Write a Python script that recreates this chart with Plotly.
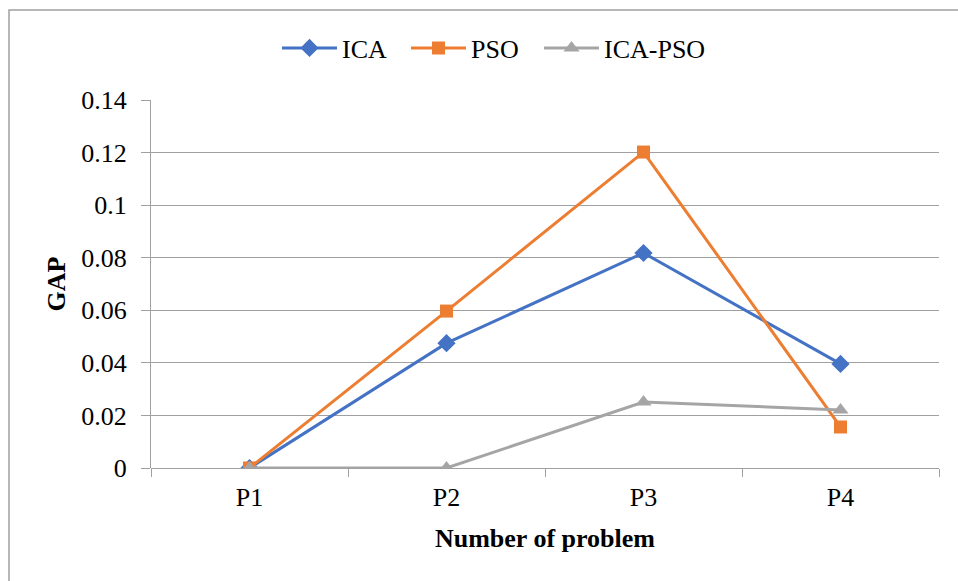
import plotly.graph_objects as go

categories = ["P1", "P2", "P3", "P4"]
ica = [0.0, 0.0475, 0.0818, 0.0396]
pso = [0.0, 0.0597, 0.1202, 0.0156]
ica_pso = [0.0, 0.0, 0.0251, 0.0221]
y_ticks = [0, 0.02, 0.04, 0.06, 0.08, 0.1, 0.12, 0.14]
y_tick_labels = ["0", "0.02", "0.04", "0.06", "0.08", "0.1", "0.12", "0.14"]

FONT = "Liberation Serif, Times New Roman, serif"
W, H = 958, 581
L, R, T, B = 151, 19, 100, 113
pw, ph = W - L - R, H - T - B

fig = go.Figure()
fig.add_trace(go.Scatter(x=categories, y=ica, name="ICA", mode="lines+markers",
                         line=dict(color="#4472C4", width=3), legend="legend",
                         marker=dict(symbol="diamond", size=14, color="#4472C4")))
fig.add_trace(go.Scatter(x=categories, y=pso, name="PSO", mode="lines+markers",
                         line=dict(color="#ED7D31", width=3), legend="legend2",
                         marker=dict(symbol="square", size=13, color="#ED7D31")))
fig.add_trace(go.Scatter(x=categories, y=ica_pso, name="ICA-PSO", mode="lines+markers",
                         line=dict(color="#A5A5A5", width=3), legend="legend3",
                         marker=dict(symbol="triangle-up", size=14, color="#A5A5A5")))

def leg(px):
    return dict(orientation="h", x=(px - L) / pw, xanchor="left",
                y=1 + (T - 48) / ph, yanchor="middle",
                font=dict(size=26), itemwidth=55, bgcolor="rgba(0,0,0,0)")

fig.update_layout(
    width=W, height=H,
    margin=dict(l=L, r=R, t=T, b=B),
    paper_bgcolor="white", plot_bgcolor="white",
    font=dict(family=FONT, size=26, color="black"),
    showlegend=True,
    legend=leg(277), legend2=leg(406), legend3=leg(539),
    xaxis=dict(type="category", range=[-0.5, 3.5], showgrid=False,
               showline=False, ticks="outside", tickson="boundaries",
               ticklen=8, tickcolor="#A0A0A0", tickwidth=1,
               tickfont=dict(size=26), ticklabelstandoff=11,
               title=dict(text="<b>Number of problem</b>", font=dict(size=26), standoff=17)),
    yaxis=dict(range=[0, 0.14], tickvals=y_ticks, ticktext=y_tick_labels,
               showgrid=True, gridcolor="#A0A0A0", gridwidth=1,
               showline=True, linecolor="#A0A0A0", linewidth=1,
               ticks="outside", ticklen=9, tickcolor="#A0A0A0",
               tickfont=dict(size=26), ticklabelstandoff=9,
               zeroline=True, zerolinecolor="#A0A0A0", zerolinewidth=1,
               title=dict(text="<b>GAP</b>", font=dict(size=26), standoff=8)),
)

# outer chart border (left & top visible in frame)
fig.add_shape(type="rect", xref="paper", yref="paper",
              x0=(9 - L) / pw, x1=1 + (R + 40) / pw,
              y0=-(B + 40) / ph, y1=1 + (T - 10) / ph,
              line=dict(color="#A0A0A0", width=1.5), layer="below")

fig.write_html("out.html")
